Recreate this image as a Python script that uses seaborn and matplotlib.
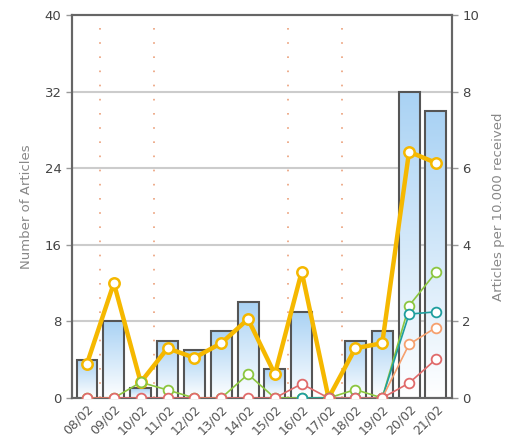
import numpy as np
import pandas as pd
import matplotlib
matplotlib.use("Agg")
import matplotlib.pyplot as plt
import seaborn as sns
from matplotlib.colors import LinearSegmentedColormap

dates = ["08/02", "09/02", "10/02", "11/02", "12/02", "13/02", "14/02",
         "15/02", "16/02", "17/02", "18/02", "19/02", "20/02", "21/02"]
articles = [4, 8, 1, 6, 5, 7, 10, 3, 9, 0, 6, 7, 32, 30]
per_10000 = [0.9, 3.0, 0.41, 1.3, 1.05, 1.43, 2.06, 0.62, 3.3, 0.0, 1.3, 1.43, 6.43, 6.14]
green_series = [0, 0, 0.41, 0.21, 0, 0, 0.62, 0, 0, 0, 0.22, 0, 2.41, 3.28]
teal_series = [np.nan] * 8 + [0, 0, 0, 0, 2.19, 2.25]
orange_series = [np.nan] * 11 + [0, 1.4, 1.84]
red_series = [0, 0, 0, 0, 0, 0, 0, 0, 0.37, 0, 0, 0, 0.39, 1.01]
weekend_gaps = [0.5, 2.5, 7.5, 9.5]
left_ticks = [0, 8, 16, 24, 32, 40]
right_ticks = [0, 2, 4, 6, 8, 10]

sns.set_style("white")
plt.rcParams['font.family'] = ['DejaVu Sans']

fig = plt.figure(figsize=(5.21, 4.43), dpi=100)
ax = fig.add_axes([72/521, 1-398/443, (452-72)/521, (398-15)/443])

df = pd.DataFrame({"date": dates, "articles": articles})
sns.barplot(data=df, x="date", y="articles", ax=ax, width=0.78,
            color="#b8dcf7", edgecolor="#555555", linewidth=1.5, zorder=3)

# gradient fill
cmap = LinearSegmentedColormap.from_list("g", ["#ffffff", "#a9d2f4"])
grad = np.linspace(0, 1, 256).reshape(-1, 1)
for p in ax.patches:
    x0, y0 = p.get_x(), p.get_y()
    w, h = p.get_width(), p.get_height()
    if h <= 0:
        continue
    im = ax.imshow(grad, extent=[x0, x0 + w, y0, y0 + h], origin="lower",
                   cmap=cmap, aspect="auto", zorder=3.5)
    im.set_clip_path(p)
    p.set_facecolor("none")
    p.set_zorder(4)

ax.set_xlim(-0.56, 13.6)
ax.set_ylim(0, 40)
ax.set_yticks(left_ticks)
for y in left_ticks[1:-1]:
    ax.axhline(y, color="#cccccc", lw=1.5, zorder=1)
for gx in weekend_gaps:
    ax.axvline(gx, color="#eba07a", lw=1.2, ls=(0, (1, 7.5)), zorder=1)

ax.set_xlabel("")
ax.set_ylabel("Number of Articles", color="#888888", fontsize=9.5, labelpad=8)
ax.tick_params(axis="y", colors="#444444", labelsize=9.5, length=4, width=1, color="#999999")
ax.tick_params(axis="x", colors="#555555", labelsize=9, length=0, pad=3)
plt.setp(ax.get_xticklabels(), rotation=45, ha="right", rotation_mode="anchor")
for s in ax.spines.values():
    s.set_color("#666666")
    s.set_linewidth(1.5)

ax2 = ax.twinx()
ax2.set_ylim(0, 10)
ax2.set_yticks(right_ticks)
xs = np.arange(len(dates))
lines = [
    (per_10000, "#f5b800", 3.2, 7.5, 1.8),
    (green_series, "#8cc63f", 1.2, 7, 1.3),
    (teal_series, "#1e9e9e", 1.2, 7, 1.3),
    (orange_series, "#f6a06e", 1.2, 7, 1.3),
    (red_series, "#e06a6a", 1.2, 7, 1.3),
]
for i, (vals, col, lw, ms, mew) in enumerate(lines):
    ldf = pd.DataFrame({"x": xs, "y": vals}).dropna()
    sns.lineplot(data=ldf, x="x", y="y", ax=ax2, color=col, lw=lw, marker="o",
                 markersize=ms, markerfacecolor="white", markeredgecolor=col,
                 markeredgewidth=mew, zorder=10 + i, sort=False, estimator=None)
ax2.set_xlim(-0.56, 13.6)
ax2.set_xlabel("")
ax2.set_ylabel("Articles per 10.000 received", color="#888888", fontsize=9.5, labelpad=9)
ax2.tick_params(axis="y", colors="#444444", labelsize=9.5, length=4, width=1, color="#999999")
for s in ax2.spines.values():
    s.set_color("#666666")
    s.set_linewidth(1.5)
for t in ax.get_yticklabels() + ax2.get_yticklabels():
    t.set_color("#444444")
for t in ax.get_xticklabels():
    t.set_color("#555555")

fig.savefig("out.png", dpi=100)
